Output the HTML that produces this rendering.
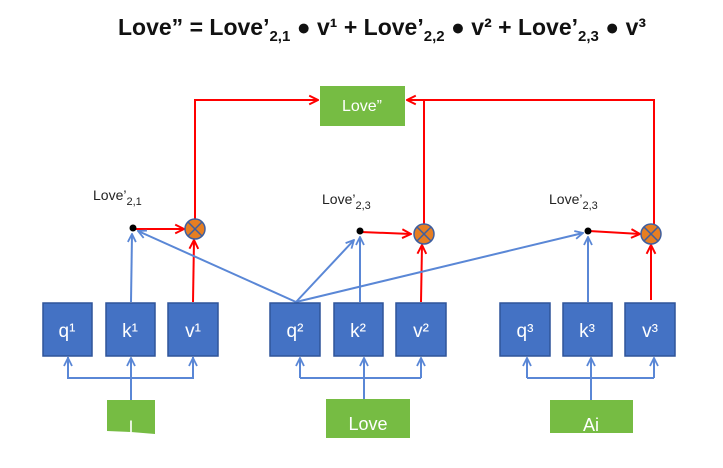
<!DOCTYPE html>
<html><head><meta charset="utf-8"><style>
html,body{margin:0;padding:0;background:#fff;}
svg{display:block;}
text{font-family:"Liberation Sans",Arial,sans-serif;}
</style></head><body>
<svg width="723" height="468" viewBox="0 0 723 468" xmlns="http://www.w3.org/2000/svg">
<defs>
<marker id="ab" viewBox="0 0 10 10" refX="9" refY="5" markerWidth="10" markerHeight="10" orient="auto" markerUnits="userSpaceOnUse"><path d="M1,1 L9,5 L1,9" fill="none" stroke="#5a87d6" stroke-width="1.8"/></marker>
<marker id="ar" viewBox="0 0 10 10" refX="9" refY="5" markerWidth="11" markerHeight="11" orient="auto" markerUnits="userSpaceOnUse"><path d="M1,1 L9,5 L1,9" fill="none" stroke="#ff0000" stroke-width="1.8"/></marker>
</defs>
<!-- title -->
<text x="118" y="35" font-size="23" font-weight="bold" fill="#111">Love” = Love’<tspan font-size="15" dy="6">2,1</tspan><tspan dy="-6"> ● v¹ + Love’</tspan><tspan font-size="15" dy="6">2,2</tspan><tspan dy="-6"> ● v² + Love’</tspan><tspan font-size="15" dy="6">2,3</tspan><tspan dy="-6"> ● v³</tspan></text>

<!-- Love'' box -->
<rect x="320" y="86" width="85" height="40" fill="#76bc43"/>
<text x="362" y="111" font-size="16" fill="#fff" text-anchor="middle">Love”</text>

<!-- red top lines -->
<g fill="none" stroke="#ff0000" stroke-width="2">
<polyline points="195,219 195,100 318,100" marker-end="url(#ar)"/>
<polyline points="654,224 654,100 407,100" marker-end="url(#ar)"/>
<line x1="424" y1="224" x2="424" y2="100"/>
<line x1="134" y1="229" x2="184" y2="229" marker-end="url(#ar)"/>
<line x1="361" y1="232" x2="411" y2="234" marker-end="url(#ar)"/>
<line x1="589" y1="231" x2="640" y2="234" marker-end="url(#ar)"/>
<line x1="193" y1="302" x2="194" y2="240" marker-end="url(#ar)"/>
<line x1="421" y1="302" x2="422" y2="245" marker-end="url(#ar)"/>
<line x1="651" y1="300" x2="651" y2="245" marker-end="url(#ar)"/>
</g>

<!-- otimes -->
<g stroke="#3f5f9f" stroke-width="1.5">
<circle cx="195" cy="229" r="10" fill="#e67e22"/>
<line x1="188" y1="222" x2="202" y2="236"/><line x1="202" y1="222" x2="188" y2="236"/>
<circle cx="424" cy="234" r="10" fill="#e67e22"/>
<line x1="417" y1="227" x2="431" y2="241"/><line x1="431" y1="227" x2="417" y2="241"/>
<circle cx="651" cy="234" r="10" fill="#e67e22"/>
<line x1="644" y1="227" x2="658" y2="241"/><line x1="658" y1="227" x2="644" y2="241"/>
</g>

<!-- blue lines -->
<g fill="none" stroke="#5a87d6" stroke-width="2">
<line x1="131" y1="302" x2="132" y2="234" marker-end="url(#ab)"/>
<line x1="360" y1="302" x2="360" y2="237" marker-end="url(#ab)"/>
<line x1="588" y1="302" x2="588" y2="237" marker-end="url(#ab)"/>
<line x1="296" y1="302" x2="138" y2="231" marker-end="url(#ab)"/>
<line x1="296" y1="302" x2="354" y2="240" marker-end="url(#ab)"/>
<line x1="296" y1="302" x2="583" y2="233" marker-end="url(#ab)"/>
<polyline points="68,357 68,378 193,378 193,357"/>
<line x1="131" y1="400" x2="131" y2="358" marker-end="url(#ab)"/>
<line x1="68" y1="378" x2="68" y2="358" marker-end="url(#ab)"/>
<line x1="193" y1="378" x2="193" y2="358" marker-end="url(#ab)"/>
<polyline points="300,378 421,378"/>
<line x1="364" y1="400" x2="364" y2="358" marker-end="url(#ab)"/>
<line x1="300" y1="378" x2="300" y2="358" marker-end="url(#ab)"/>
<line x1="421" y1="378" x2="421" y2="358" marker-end="url(#ab)"/>
<polyline points="527,378 654,378"/>
<line x1="591" y1="400" x2="591" y2="358" marker-end="url(#ab)"/>
<line x1="527" y1="378" x2="527" y2="358" marker-end="url(#ab)"/>
<line x1="654" y1="378" x2="654" y2="358" marker-end="url(#ab)"/>
</g>

<!-- dots -->
<circle cx="133" cy="228" r="3.5" fill="#000"/>
<circle cx="360" cy="231" r="3.5" fill="#000"/>
<circle cx="588" cy="231" r="3.5" fill="#000"/>

<!-- labels -->
<g font-size="14" fill="#222">
<text x="93" y="200">Love’<tspan font-size="11" dy="5">2,1</tspan></text>
<text x="322" y="204">Love’<tspan font-size="11" dy="5">2,3</tspan></text>
<text x="549" y="204">Love’<tspan font-size="11" dy="5">2,3</tspan></text>
</g>

<!-- blue boxes -->
<g fill="#4472c4" stroke="#2f549a" stroke-width="1.5">
<rect x="43" y="303" width="49" height="53"/>
<rect x="106" y="303" width="49" height="53"/>
<rect x="168" y="303" width="50" height="53"/>
<rect x="270" y="303" width="50" height="53"/>
<rect x="334" y="303" width="49" height="53"/>
<rect x="396" y="303" width="50" height="53"/>
<rect x="500" y="303" width="50" height="53"/>
<rect x="563" y="303" width="49" height="53"/>
<rect x="625" y="303" width="50" height="53"/>
</g>
<g font-size="19" fill="#fff" text-anchor="middle">
<text x="67" y="337">q¹</text><text x="130" y="337">k¹</text><text x="193" y="337">v¹</text>
<text x="295" y="337">q²</text><text x="358" y="337">k²</text><text x="421" y="337">v²</text>
<text x="525" y="337">q³</text><text x="587" y="337">k³</text><text x="650" y="337">v³</text>
</g>

<!-- green inputs -->
<path d="M107,400 L155,400 L155,434 L131,432 L107,431 Z" fill="#76bc43"/>
<text x="131" y="432" font-size="17" fill="#fff" text-anchor="middle">I</text>
<rect x="326" y="399" width="84" height="39" fill="#76bc43"/>
<text x="368" y="430" font-size="18" fill="#fff" text-anchor="middle">Love</text>
<rect x="550" y="400" width="83" height="33" fill="#76bc43"/>
<text x="591" y="431" font-size="18" fill="#fff" text-anchor="middle">Ai</text>
</svg>
</body></html>
